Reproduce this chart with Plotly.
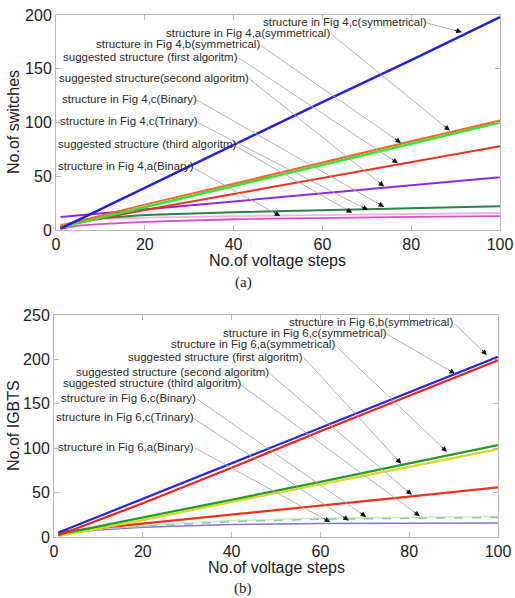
import math
import plotly.graph_objects as go

W, H = 515, 598

# ---------------- data: panel (a) ----------------
steps_a = [1, 20, 40, 60, 80, 100]
a_fig4c_sym = [1.2, 39, 79, 119, 158, 198]
a_fig4a_sym = [4, 23.6, 43, 63, 82.5, 102]
a_fig4b_sym = [2.5, 21.5, 41, 60.5, 80, 100]
a_first = [3.5, 18.6, 33.5, 48.5, 63, 78]
a_second = [12, 19.2, 26.7, 34.2, 41.6, 49]
steps_a_fine = [1, 5, 10, 20, 40, 60, 80, 100]
a_fig4c_bin = [3, 8, 11, 14, 16.5, 18.5, 20.5, 22]
a_fig4c_tri = [5, 8.5, 10, 11.5, 13, 14, 15, 15.8]
a_fig4a_bin = [1, 4, 5.5, 7.5, 10, 11.5, 12.3, 13]

labels_a = [
    "structure in Fig 4,c(symmetrical)",
    "structure in Fig 4,a(symmetrical)",
    "structure in Fig 4,b(symmetrical)",
    "suggested structure (first algoritm)",
    "suggested structure(second algoritm)",
    "structure in Fig 4,c(Binary)",
    "structure in Fig 4,c(Trinary)",
    "suggested structure (third algoritm)",
    "structure in Fig 4,a(Binary)",
]
lab_x_a = [46.2, 24.3, 8.6, 1.2, 0.3, 0.9, 0.5, 0.0, 0.0]
lab_y_a = [193.5, 183.3, 173, 161, 141.4, 121.9, 101.4, 80, 59.5]
lab_end_a = [83.5, 62.0, 46.0, 41.2, 43.6, 31.7, 31.7, 40.0, 30.6]
tip_x_a = [91.4, 88.7, 77.7, 77.0, 73.9, 73.9, 70.3, 66.7, 50.5]
tip_y_a = [184, 92.5, 81, 62, 40.5, 21.5, 18.5, 16, 13]

# ---------------- data: panel (b) ----------------
steps_b = [1, 20, 40, 60, 80, 100]
b_fig6b_sym = [5, 43, 83, 123, 163, 203]
b_fig6c_sym = [2, 38, 78, 119, 159, 199]
b_fig6a_sym = [3, 22, 42, 62, 83, 103.5]
b_first = [1, 19, 39.5, 59, 79, 99]
b_second = [5.5, 15, 25, 35.5, 45.5, 56]
steps_b_fine = [1, 5, 10, 20, 40, 60, 80, 100]
b_fig6c_bin = [4, 6, 8, 12, 17.3, 20, 21.3, 22]
b_fig6c_tri = [5, 7, 9.5, 13, 18.5, 21, 22.3, 23]
b_fig6a_bin = [4, 6, 8, 11, 14, 15.2, 15.6, 15.8]

labels_b = [
    "structure in Fig 6,b(symmetrical)",
    "structure in Fig 6,c(symmetrical)",
    "structure in Fig 6,a(symmetrical)",
    "suggested structure (first algoritm)",
    "suggested structure (second algoritm)",
    "suggested structure (third algoritm)",
    "structure in Fig 6,c(Binary)",
    "structure in Fig 6,c(Trinary)",
    "structure in Fig 6,a(Binary)",
]
lab_x_b = [52.5, 37.6, 25.9, 16.2, 4.5, 1.6, 1.2, 0.0, 0.5]
lab_y_b = [242.1, 229.7, 217.3, 202.7, 185.8, 173.4, 156.5, 135.1, 101.4]
lab_end_b = [90.0, 74.9, 63.2, 56.3, 48.4, 41.8, 32.2, 31.3, 31.7]
tip_x_b = [97.5, 90.3, 88.5, 78.2, 80.6, 82.4, 70.3, 66.4, 62.2]
tip_y_b = [205, 184, 96, 82.5, 47.5, 23.5, 22.5, 18.5, 16.8]

# ---------------- layout geometry ----------------
dom_a_x = [56 / W, 500 / W]
dom_a_y = [(H - 230) / H, (H - 15) / H]
dom_b_x = [54 / W, 498 / W]
dom_b_y = [(H - 537) / H, (H - 315) / H]
range_x = [0, 100]
range_ya = [0, 200]
range_yb = [0, 250]

fig = go.Figure()

def add_line(x, y, color, xa, ya, width=2.0, dash="solid"):
    fig.add_trace(go.Scatter(x=x, y=y, mode="lines", xaxis=xa, yaxis=ya,
                             line=dict(color=color, width=width, dash=dash),
                             showlegend=False, hoverinfo="skip"))

# panel (a) curves
add_line(steps_a_fine, a_fig4a_bin, "#d64fd0", "x", "y", 1.8)
add_line(steps_a_fine, a_fig4c_tri, "#f2b6d4", "x", "y", 1.8)
add_line(steps_a_fine, a_fig4c_bin, "#2f7d52", "x", "y", 2.0)
add_line(steps_a, a_second, "#8a2be2", "x", "y", 2.0)
add_line(steps_a, a_first, "#e4361e", "x", "y", 2.0)
add_line(steps_a, a_fig4b_sym, "#33e633", "x", "y", 2.6)
add_line(steps_a, a_fig4a_sym, "#ee6a2a", "x", "y", 2.0)
add_line(steps_a, a_fig4c_sym, "#2323d6", "x", "y", 2.5)

# panel (b) curves
add_line(steps_b_fine, b_fig6a_bin, "#8078c8", "x2", "y2", 1.5)
add_line(steps_b_fine, b_fig6c_tri, "#cfe9bf", "x2", "y2", 1.5)
add_line(steps_b_fine, b_fig6c_bin, "#88c4cc", "x2", "y2", 1.5, "dash")
add_line(steps_b, b_second, "#e8321c", "x2", "y2", 2.2)
add_line(steps_b, b_first, "#d6d628", "x2", "y2", 2.2)
add_line(steps_b, b_fig6a_sym, "#239a2a", "x2", "y2", 2.2)
add_line(steps_b, b_fig6c_sym, "#ee2020", "x2", "y2", 2.2)
add_line(steps_b, b_fig6b_sym, "#2424ee", "x2", "y2", 2.2)

axis_common = dict(showgrid=False, zeroline=False, showline=True, mirror="ticks",
                   linecolor="#b8b8b8", linewidth=1, ticks="inside", ticklen=5,
                   tickcolor="#b8b8b8", tickfont=dict(family="Liberation Sans, Arial", size=16, color="#222"),
                   automargin=False)

fig.update_layout(
    width=W, height=H, margin=dict(l=0, r=0, t=0, b=0),
    paper_bgcolor="white", plot_bgcolor="white",
    xaxis=dict(domain=dom_a_x, range=range_x, anchor="y", tickvals=[0, 20, 40, 60, 80, 100], **axis_common),
    yaxis=dict(domain=dom_a_y, range=range_ya, anchor="x", tickvals=[0, 50, 100, 150, 200], **axis_common),
    xaxis2=dict(domain=dom_b_x, range=range_x, anchor="y2", tickvals=[0, 20, 40, 60, 80, 100], **axis_common),
    yaxis2=dict(domain=dom_b_y, range=range_yb, anchor="x2", tickvals=[0, 50, 100, 150, 200, 250], **axis_common),
)

shapes = []
annots = []

def add_labels(labels, lx, ly, lend, tx, ty, xr, yr, dom_x, dom_y, ry):
    sx = (dom_x[1] - dom_x[0]) * W / (range_x[1] - range_x[0])
    sy = (dom_y[1] - dom_y[0]) * H / (ry[1] - ry[0])
    for t, x0, y0, xe, xt, yt in zip(labels, lx, ly, lend, tx, ty):
        annots.append(dict(text=t, x=x0, y=y0, xref=xr, yref=yr, xanchor="left", yanchor="middle",
                           showarrow=False, font=dict(family="Liberation Sans, Arial", size=11.5, color="#2a2a2a")))
        shapes.append(dict(type="line", xref=xr, yref=yr, x0=xe, y0=y0 - 1.0, x1=xt, y1=yt,
                           line=dict(color="#a8a8a8", width=0.9)))
        dxp = (xt - xe) * sx
        dyp = (y0 - yt) * sy
        n = math.hypot(dxp, dyp)
        ux, uy = dxp / n, dyp / n
        annots.append(dict(text="", x=xt, y=yt, xref=xr, yref=yr, showarrow=True,
                           ax=-ux * 9, ay=-uy * 9, arrowhead=2, arrowsize=1.1,
                           arrowwidth=1, arrowcolor="#111", standoff=0))

add_labels(labels_a, lab_x_a, lab_y_a, lab_end_a, tip_x_a, tip_y_a, "x", "y", dom_a_x, dom_a_y, range_ya)
add_labels(labels_b, lab_x_b, lab_y_b, lab_end_b, tip_x_b, tip_y_b, "x2", "y2", dom_b_x, dom_b_y, range_yb)

title_font = dict(family="Liberation Sans, Arial", size=16, color="#222")
cap_font = dict(family="Liberation Serif, Times New Roman", size=15, color="#222")

def pap(px, py):
    return px / W, (H - py) / H

for txt, (px, py), ang, fnt in [
    ("No.of voltage steps", (277, 260), 0, title_font),
    ("No.of switches", (14, 122), -90, title_font),
    ("(a)", (243, 282), 0, cap_font),
    ("No.of voltage steps", (276, 567), 0, title_font),
    ("No.of IGBTS", (13, 426), -90, title_font),
    ("(b)", (243, 588), 0, cap_font),
]:
    x, y = pap(px, py)
    annots.append(dict(text=txt, x=x, y=y, xref="paper", yref="paper", xanchor="center",
                       yanchor="middle", showarrow=False, textangle=ang, font=fnt))

fig.update_layout(shapes=shapes, annotations=annots)
fig.write_html("out.html", config={"displayModeBar": False},
               post_script="document.body.style.margin='0';document.body.style.overflow='hidden';")
